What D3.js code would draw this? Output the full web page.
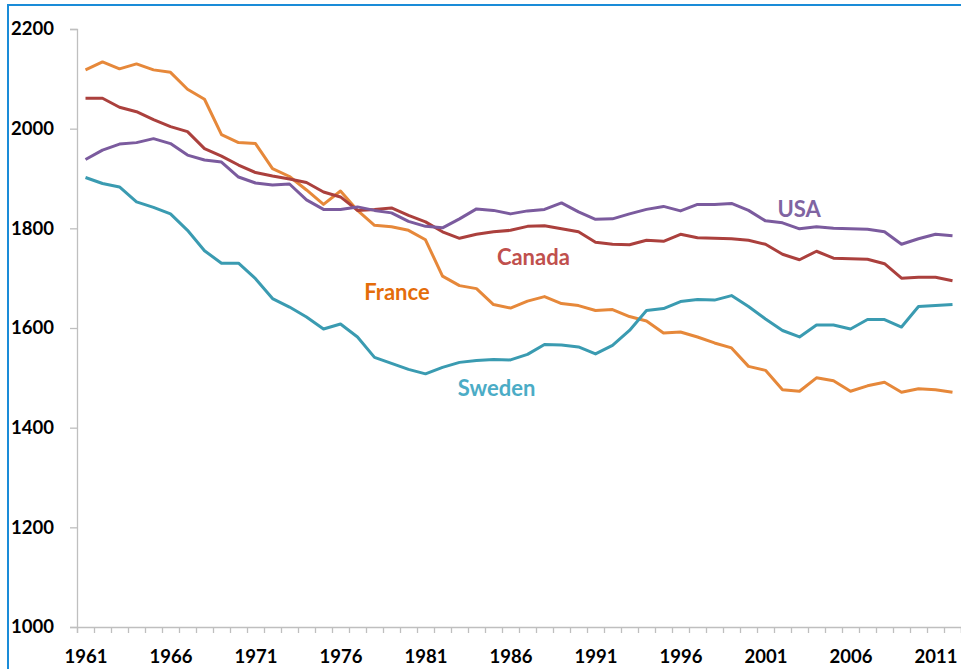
<!DOCTYPE html>
<html>
<head>
<meta charset="utf-8">
<script src="https://cdn.jsdelivr.net/npm/d3@7"></script>
<style>
  html, body { margin: 0; padding: 0; background: #fff; }
  svg { display: block; }
  text { font-family: Lato, "Open Sans", sans-serif; font-weight: 700; }
</style>
</head>
<body>
<svg id="chart" width="961" height="669"></svg>
<script>
const years = d3.range(1961, 2013);

const france = [2118,2134,2120,2130,2118,2113,2079,2059,1988,1972,1970,1920,1904,1877,1848,1875,1836,1806,1803,1796,1777,
  1704,1685,1679,1647,1640,1654,1663,1649,1645,1635,1637,1623,1614,1590,1592,1582,1570,1560,1523,1515,1476,1473,1500,1494,1473,1484,1491,1471,1478,1476,1471];
const canada = [2061,2061,2043,2034,2018,2004,1994,1960,1945,1927,1912,1905,1899,1892,1873,1863,1836,1838,1841,1826,1813,
  1793,1780,1788,1793,1796,1804,1805,1799,1793,1772,1768,1767,1776,1774,1788,1781,1780,1779,1776,1768,1748,1737,1754,1740,1739,1738,1729,1700,1702,1702,1695];
const usa = [1938,1957,1969,1972,1980,1970,1947,1937,1933,1903,1891,1887,1889,1857,1838,1838,1843,1836,1831,1814,1804,
  1801,1819,1839,1836,1829,1835,1838,1851,1833,1818,1819,1829,1838,1844,1835,1848,1848,1850,1836,1815,1811,1799,1803,1800,1799,1798,1793,1768,1779,1788,1785];
const sweden = [1902,1890,1883,1853,1842,1829,1796,1755,1730,1730,1699,1659,1642,1622,1598,1608,1582,1541,1529,1517,1508,
  1521,1531,1535,1537,1536,1547,1567,1566,1562,1548,1565,1595,1635,1639,1653,1657,1656,1665,1643,1618,1595,1582,1606,1606,1598,1617,1617,1602,1643,1645,1647];

const yTicks = [1000, 1200, 1400, 1600, 1800, 2000, 2200];
const xLabels = [1961, 1966, 1971, 1976, 1981, 1986, 1991, 1996, 2001, 2006, 2011];

const seriesNames = ["France", "Canada", "USA", "Sweden"];
const seriesValues = [france, canada, usa, sweden];
const lineColors = ["#e6883a", "#ab403d", "#7b5b9e", "#3a9bb1"];
const labelColors = ["#e46c0a", "#c0504d", "#8064a2", "#4bacc6"];
// label anchors in data space: [year position, value at baseline]
const labelYears = [1977.9, 1985.7, 2002.2, 1983.4];
const labelValues = [1657, 1726, 1823, 1464];

const svg = d3.select("#chart");

const x = d3.scaleLinear().domain([1961, 2013]).range([77, 961]);
const y = d3.scaleLinear().domain([1000, 2200]).range([627, 29]);

// frame
svg.append("path")
  .attr("d", "M8,669 L8,5 L961,5")
  .attr("fill", "none")
  .attr("stroke", "#1a8cd8")
  .attr("stroke-width", 2);

// y axis
const yAxis = svg.append("g")
  .attr("transform", `translate(${x(1961)},0)`)
  .call(d3.axisLeft(y).tickValues(yTicks).tickSize(7).tickPadding(16).tickFormat(d3.format("d")));
yAxis.select(".domain").attr("stroke", "#bfbfbf").attr("stroke-width", 1.3);
yAxis.selectAll(".tick line").attr("stroke", "#bfbfbf").attr("stroke-width", 1.3);
yAxis.selectAll(".tick text").attr("fill", "#000").style("font-size", "18.5px");

// x axis: tick marks at category boundaries
const xTickAxis = svg.append("g")
  .attr("transform", `translate(0,${y(1000)})`)
  .call(d3.axisBottom(x).tickValues(d3.range(1961, 2014)).tickSize(6).tickFormat(""));
xTickAxis.select(".domain").attr("stroke", "#bfbfbf").attr("stroke-width", 1.3);
xTickAxis.selectAll(".tick line").attr("stroke", "#bfbfbf").attr("stroke-width", 1.3);

// x axis labels at category centers
const xLabAxis = svg.append("g")
  .attr("transform", `translate(0,${y(1000)})`)
  .call(d3.axisBottom(x).tickValues(xLabels.map(v => v + 0.5)).tickSize(0).tickFormat(d => String(Math.floor(d))));
xLabAxis.select(".domain").remove();
xLabAxis.selectAll(".tick text")
  .attr("fill", "#000")
  .attr("y", 36)
  .attr("dy", 0)
  .style("font-size", "18.5px");

// lines
const line = d3.line()
  .x((d, i) => x(years[i] + 0.5))
  .y(d => y(d));

seriesValues.forEach((vals, i) => {
  svg.append("path")
    .datum(vals)
    .attr("d", line)
    .attr("fill", "none")
    .attr("stroke", lineColors[i])
    .attr("stroke-width", 3)
    .attr("stroke-linejoin", "round");
});

// series labels
seriesNames.forEach((name, i) => {
  svg.append("text")
    .attr("x", x(labelYears[i]))
    .attr("y", y(labelValues[i]))
    .attr("fill", labelColors[i])
    .style("font-size", "22px")
    .text(name);
});
</script>
</body>
</html>
